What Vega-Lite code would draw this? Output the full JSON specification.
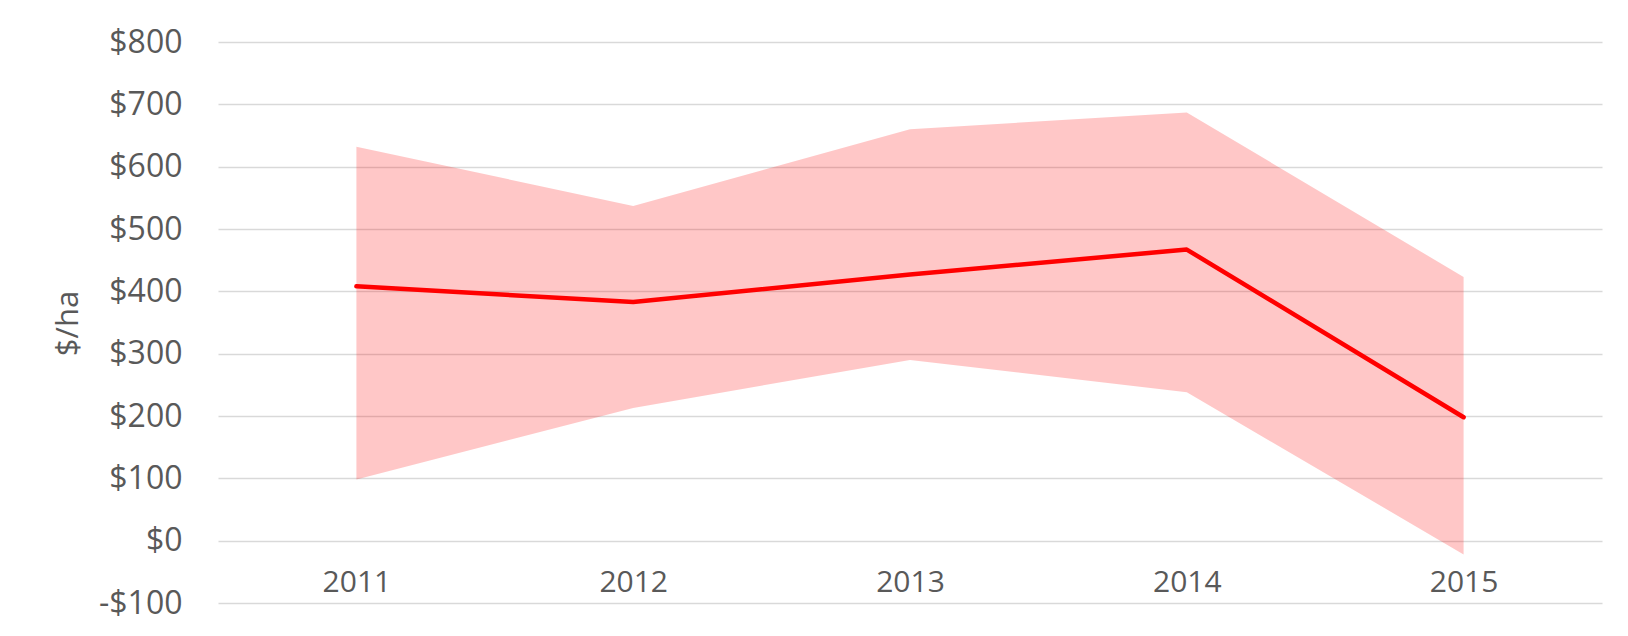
{
  "$schema": "https://vega.github.io/schema/vega-lite/v6.json",
  "width": 1384,
  "height": 561,
  "autosize": {"type": "none"},
  "padding": {"left": 218, "top": 42, "right": 26, "bottom": 33},
  "background": "white",
  "config": {
    "view": {"stroke": null},
    "font": "Open Sans",
    "axis": {"labelColor": "#595959", "titleColor": "#595959", "labelFont": "Open Sans", "titleFont": "Open Sans"}
  },
  "data": {
    "values": [
      {"year": "2011", "mid": 408, "low": 98, "high": 632},
      {"year": "2012", "mid": 383, "low": 213, "high": 537},
      {"year": "2013", "mid": 427, "low": 290, "high": 660},
      {"year": "2014", "mid": 467, "low": 238, "high": 687},
      {"year": "2015", "mid": 198, "low": -22, "high": 423}
    ]
  },
  "encoding": {
    "x": {
      "field": "year",
      "type": "ordinal",
      "scale": {"type": "point", "padding": 0.5},
      "axis": {
        "title": null,
        "labelAngle": 0,
        "domain": false,
        "ticks": false,
        "tickSize": 0,
        "grid": false,
        "offset": -62,
        "labelPadding": 26,
        "labelBaseline": "top",
        "labelFontSize": 30
      }
    }
  },
  "layer": [
    {
      "mark": {"type": "area", "color": "#FF0000", "opacity": 0.22},
      "encoding": {
        "y": {
          "field": "low",
          "type": "quantitative",
          "scale": {"domain": [-100, 800], "nice": false, "zero": false},
          "axis": {
            "title": "$/ha",
            "titleFontSize": 31,
            "titleFontWeight": "normal",
            "titleX": -134,
            "titleY": 281,
            "values": [-100, 0, 100, 200, 300, 400, 500, 600, 700, 800],
            "labelExpr": "datum.value < 0 ? '-$' + abs(datum.value) : '$' + datum.value",
            "labelFontSize": 32,
            "labelPadding": 36,
            "labelBaseline": "middle",
            "domain": false,
            "ticks": false,
            "tickSize": 0,
            "grid": true,
            "gridColor": "#D9D9D9",
            "gridWidth": 1.5
          }
        },
        "y2": {"field": "high"}
      }
    },
    {
      "mark": {"type": "line", "color": "#FF0000", "strokeWidth": 4.5, "strokeJoin": "round", "strokeCap": "round"},
      "encoding": {
        "y": {"field": "mid", "type": "quantitative"}
      }
    }
  ]
}
